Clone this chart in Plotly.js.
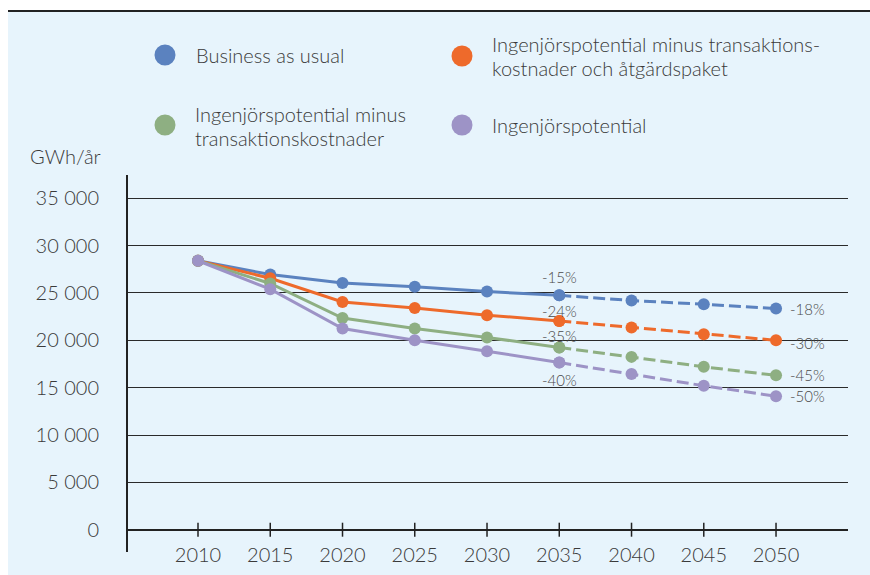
<!DOCTYPE html>
<html>
<head>
<meta charset="utf-8">
<script src="https://cdn.plot.ly/plotly-3.0.1.min.js"></script>
<style>
html,body{margin:0;padding:0;background:#ffffff;}
#chart{width:870px;height:575px;}
</style>
</head>
<body>
<div id="chart"></div>
<script>
// ---- data ----
const years = [2010, 2015, 2020, 2025, 2030, 2035, 2040, 2045, 2050];
const splitYear = 2035;
const seriesNames = [
  "Business as usual",
  "Ingenjörspotential minus transaktions-<br>kostnader och åtgärdspaket",
  "Ingenjörspotential minus<br>transaktionskostnader",
  "Ingenjörspotential"
];
const businessAsUsual = [28400, 26950, 26050, 25650, 25150, 24750, 24200, 23800, 23350];
const minusTransAndPackage = [28400, 26550, 24050, 23400, 22650, 22050, 21350, 20650, 20000];
const minusTrans = [28400, 26000, 22350, 21250, 20300, 19250, 18250, 17200, 16300];
const engineeringPotential = [28400, 25400, 21250, 20000, 18850, 17650, 16450, 15200, 14100];
const midLabels = ["-15%", "-24%", "-35%", "-40%"];
const endLabels = ["-18%", "-30%", "-45%", "-50%"];
const yTickVals = [0, 5000, 10000, 15000, 20000, 25000, 30000, 35000];
const yTickText = ["0", "5 000", "10 000", "15 000", "20 000", "25 000", "30 000", "35 000"];
const yUnit = "GWh/år";

// ---- styling ----
const colors = ["#5b82bf", "#ee6a2b", "#8eaf82", "#9d93c6"];
const allSeries = [businessAsUsual, minusTransAndPackage, minusTrans, engineeringPotential];
const FONT = "Lato, 'Open Sans', sans-serif";
const FW = 300;
const TXT = "#3a3a3a";
const FS = 20;

// plot area geometry (px)
const L = 128, R = 848, T = 175, B = 552, W = 870, H = 575;
const pw = R - L, ph = B - T;
const px = v => (v - L) / pw;
const py = v => (B - v) / ph;

const traces = [];
// tick marks crossing the zero line
traces.push({
  x: years, y: years.map(() => 0), type: "scatter", mode: "markers",
  marker: {symbol: "line-ns-open", size: 10, color: "#222", line: {color: "#222", width: 1.5}},
  showlegend: false, hoverinfo: "skip"
});
allSeries.forEach((vals, i) => {
  const xs1 = [], ys1 = [], xs2 = [], ys2 = [];
  years.forEach((y, k) => {
    if (y <= splitYear) { xs1.push(y); ys1.push(vals[k]); }
    if (y >= splitYear) { xs2.push(y); ys2.push(vals[k]); }
  });
  traces.push({
    x: xs1, y: ys1, type: "scatter", mode: "lines+markers", name: seriesNames[i],
    line: {color: colors[i], width: 3}, marker: {color: colors[i], size: 12},
    showlegend: false, hoverinfo: "x+y"
  });
  traces.push({
    x: xs2, y: ys2, type: "scatter", mode: "lines+markers", name: seriesNames[i],
    line: {color: colors[i], width: 3, dash: "12px,5px"}, marker: {color: colors[i], size: 12},
    showlegend: false, hoverinfo: "x+y"
  });
});

// annotations
const annotations = [];
const splitIdx = years.indexOf(splitYear);
const lastIdx = years.length - 1;
const midShift = [18, 10, 11, -17];
allSeries.forEach((vals, i) => {
  annotations.push({
    x: splitYear, y: vals[splitIdx], xref: "x", yref: "y", text: midLabels[i],
    showarrow: false, xanchor: "center", yanchor: "middle", yshift: midShift[i],
    font: {family: FONT, size: 15, color: "#4a4a4a", weight: FW}
  });
  annotations.push({
    x: years[lastIdx], y: vals[lastIdx], xref: "x", yref: "y", text: endLabels[i],
    showarrow: false, xanchor: "left", yanchor: "middle", xshift: 12, yshift: i === 1 ? -3 : 0,
    font: {family: FONT, size: 15, color: "#4a4a4a", weight: FW}
  });
});
// y unit title
annotations.push({
  x: px(28), y: py(156), xref: "paper", yref: "paper", text: yUnit, showarrow: false,
  xanchor: "left", yanchor: "middle", font: {family: FONT, size: FS, color: TXT, weight: FW}
});

// manual legend (large dots + text lines)
const legendPos = [
  {cx: 165, cy: 55, tx: 194, lines: [55]},
  {cx: 462, cy: 56, tx: 490, lines: [44, 68.5]},
  {cx: 165, cy: 125, tx: 193, lines: [114, 138]},
  {cx: 462, cy: 125, tx: 490, lines: [125]}
];
const shapes = [];
// background panel
shapes.push({type: "rect", xref: "paper", yref: "paper", x0: px(8), x1: px(W), y0: py(H), y1: py(12),
  fillcolor: "#e7f4fc", line: {width: 0}, layer: "below"});
// top rule
shapes.push({type: "line", xref: "paper", yref: "paper", x0: px(8), x1: px(W), y0: py(11), y1: py(11),
  line: {color: "#222", width: 2}});
legendPos.forEach((p, i) => {
  const r = 10.5;
  shapes.push({type: "circle", xref: "paper", yref: "paper",
    x0: px(p.cx - r), x1: px(p.cx + r), y0: py(p.cy + r), y1: py(p.cy - r),
    fillcolor: colors[i], line: {width: 0}});
  const parts = seriesNames[i].split("<br>");
  parts.forEach((t, k) => {
    annotations.push({x: px(p.tx), y: py(p.lines[k]), xref: "paper", yref: "paper", text: t,
      showarrow: false, xanchor: "left", yanchor: "middle",
      font: {family: FONT, size: FS, color: TXT, weight: FW}});
  });
});

const zeroPos = (B - 529.7) / ph;
const layout = {
  width: W, height: H,
  margin: {l: L, r: W - R, t: T, b: H - B, pad: 0},
  paper_bgcolor: "#ffffff",
  plot_bgcolor: "rgba(0,0,0,0)",
  showlegend: false,
  font: {family: FONT, size: FS, color: TXT, weight: FW},
  xaxis: {
    range: [2005.156, 2054.98], anchor: "free", position: zeroPos,
    tickvals: years, ticktext: years.map(String), ticks: "", showgrid: false, zeroline: false,
    showline: false, ticklabelstandoff: 11, automargin: false,
    tickfont: {family: FONT, size: FS, color: TXT, weight: FW}
  },
  yaxis: {
    range: [-2355, 37457], tickvals: yTickVals, ticktext: yTickText, ticks: "",
    showgrid: true, gridcolor: "#2a2a2a", gridwidth: 1,
    zeroline: true, zerolinecolor: "#222", zerolinewidth: 2,
    showline: true, linecolor: "#222", linewidth: 2,
    ticklabelstandoff: 23, automargin: false,
    tickfont: {family: FONT, size: FS, color: TXT, weight: FW}
  },
  shapes: shapes,
  annotations: annotations
};

Plotly.newPlot("chart", traces, layout, {displayModeBar: false, staticPlot: true});
</script>
</body>
</html>
